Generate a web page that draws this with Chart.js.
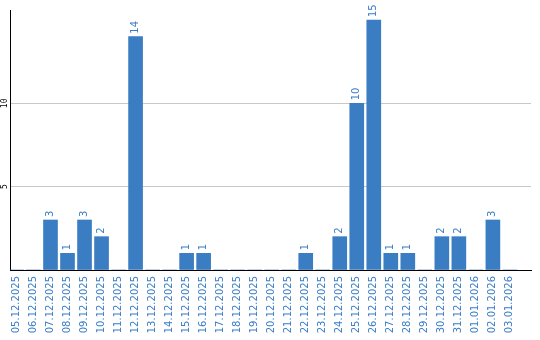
<!DOCTYPE html>
<html>
<head>
<meta charset="utf-8">
<script src="https://cdn.jsdelivr.net/npm/chart.js@4"></script>
<style>
  body { margin: 0; background: #fff; }
</style>
</head>
<body>
<canvas id="chart1" width="540" height="340"></canvas>
<script>
var dates = ["05.12.2025", "06.12.2025", "07.12.2025", "08.12.2025", "09.12.2025", "10.12.2025",
    "11.12.2025", "12.12.2025", "13.12.2025", "14.12.2025", "15.12.2025", "16.12.2025",
    "17.12.2025", "18.12.2025", "19.12.2025", "20.12.2025", "21.12.2025", "22.12.2025",
    "23.12.2025", "24.12.2025", "25.12.2025", "26.12.2025", "27.12.2025", "28.12.2025",
    "29.12.2025", "30.12.2025", "31.12.2025", "01.01.2026", "02.01.2026", "03.01.2026"];
var counts = [0, 0, 3, 1, 3, 2, 0, 14, 0, 0, 1, 1, 0, 0, 0, 0, 0, 1, 0, 2, 10, 15, 1, 1, 0, 2, 2, 0, 3, 0];
var yTicks = [5, 10];

var blue = '#3b7dc2';
var labelBlue = '#3a7dc6';

// value labels above the bars + rotated y labels
var labelsPlugin = {
    id: 'labels',
    afterDatasetsDraw: function(chart) {
        var ctx = chart.ctx;
        var meta = chart.getDatasetMeta(0);
        ctx.save();
        ctx.fillStyle = labelBlue;
        ctx.font = '10px "DejaVu Sans"';
        ctx.textAlign = 'left';
        ctx.textBaseline = 'middle';
        meta.data.forEach(function(bar, i) {
            if (!counts[i]) return;
            ctx.save();
            ctx.translate(bar.x, bar.y - 3);
            ctx.rotate(-Math.PI / 2);
            ctx.fillText(String(counts[i]), 0, 0);
            ctx.restore();
        });
        var y = chart.scales.y;
        ctx.fillStyle = '#000';
        ctx.font = '8px "DejaVu Sans Mono"';
        ctx.textAlign = 'center';
        yTicks.forEach(function(t) {
            ctx.save();
            ctx.translate(5, y.getPixelForValue(t));
            ctx.rotate(-Math.PI / 2);
            ctx.fillText(String(t), 0, 0);
            ctx.restore();
        });
        ctx.restore();
    }
};

var ctx = document.getElementById('chart1').getContext('2d');
var chart = new Chart(ctx, {
    type: 'bar',
    data: {
        datasets: [{
            data: counts.map(function(v, i) { return {x: i, y: v}; }),
            backgroundColor: blue,
            borderWidth: 0,
            barThickness: 14
        }]
    },
    plugins: [labelsPlugin],
    options: {
        responsive: false,
        animation: false,
        layout: { padding: { left: 10, top: 10, right: 9, bottom: 0 } },
        plugins: { legend: { display: false }, tooltip: { enabled: false } },
        scales: {
            x: {
                type: 'linear',
                min: -0.38,
                max: 30.24,
                offset: false,
                grid: { display: false, drawTicks: false },
                border: { display: true, color: '#000', width: 1 },
                afterBuildTicks: function(scale) {
                    scale.ticks = dates.map(function(d, i) { return {value: i}; });
                },
                afterFit: function(scale) { scale.height = 70; },
                ticks: {
                    autoSkip: false,
                    minRotation: 90,
                    maxRotation: 90,
                    padding: 6,
                    color: labelBlue,
                    font: { family: 'DejaVu Sans', size: 10 },
                    callback: function(v) { return dates[v]; }
                }
            },
            y: {
                min: 0,
                max: 15.6,
                afterFit: function(scale) { scale.width = 0; },
                ticks: { display: false, stepSize: 5, includeBounds: false },
                grid: {
                    drawTicks: false,
                    color: function(c) {
                        return yTicks.indexOf(c.tick.value) >= 0 ? '#c8c8c8' : 'rgba(0,0,0,0)';
                    }
                },
                border: { display: true, color: '#000', width: 1 }
            }
        }
    }
});
</script>
</body>
</html>
